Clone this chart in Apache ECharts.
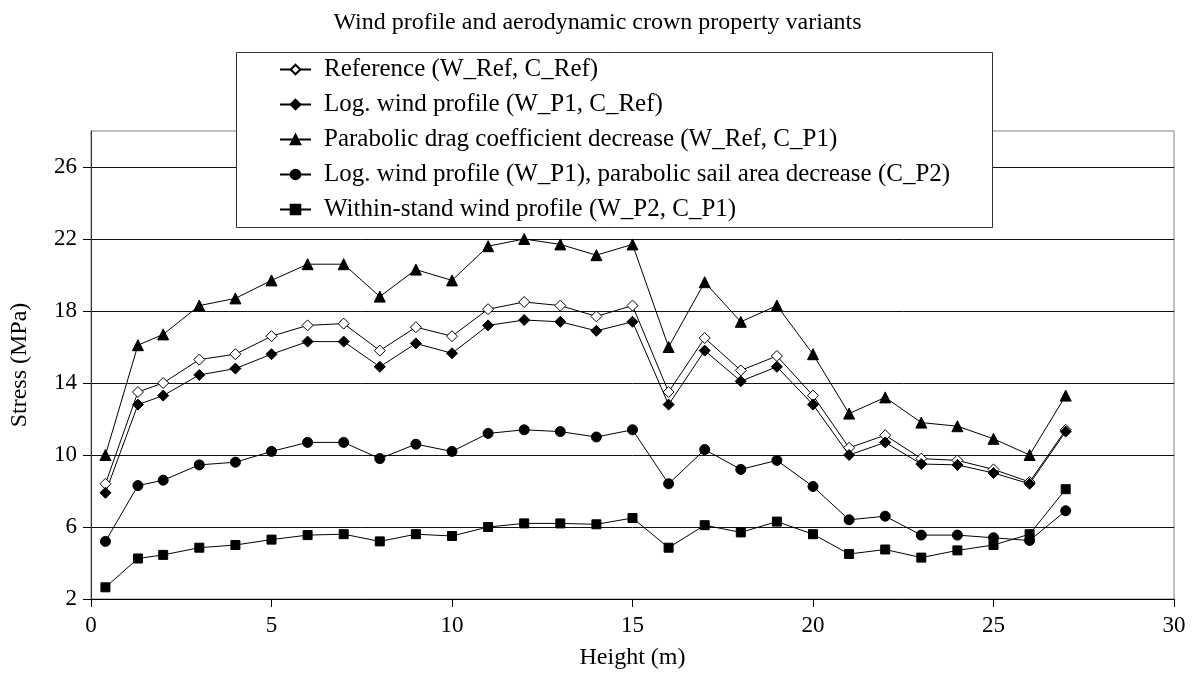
<!DOCTYPE html>
<html>
<head>
<meta charset="utf-8">
<script src="https://cdn.jsdelivr.net/npm/echarts@6/dist/echarts.min.js"></script>
<style>
html,body{margin:0;padding:0;background:#fff;}
#chart{width:1195px;height:675px;}
</style>
</head>
<body>
<div id="chart"></div>
<script>
const heights = [0.4, 1.3, 2, 3, 4, 5, 6, 7, 8, 9, 10, 11, 12, 13, 14, 15, 16, 17, 18, 19, 20, 21, 22, 23, 24, 25, 26, 27];
const refValues = [8.4, 13.5, 14.0, 15.3, 15.6, 16.6, 17.2, 17.3, 15.8, 17.1, 16.6, 18.1, 18.5, 18.3, 17.7, 18.3, 13.5, 16.5, 14.7, 15.5, 13.3, 10.4, 11.1, 9.8, 9.7, 9.2, 8.5, 11.4];
const logWindValues = [7.9, 12.8, 13.3, 14.45, 14.8, 15.6, 16.3, 16.3, 14.9, 16.2, 15.65, 17.2, 17.5, 17.4, 16.9, 17.4, 12.8, 15.8, 14.1, 14.9, 12.8, 10.0, 10.7, 9.5, 9.45, 9.0, 8.4, 11.3];
const parabolicDragValues = [10.0, 16.1, 16.7, 18.3, 18.7, 19.7, 20.6, 20.6, 18.8, 20.3, 19.7, 21.6, 22.0, 21.7, 21.1, 21.7, 16.0, 19.6, 17.4, 18.3, 15.6, 12.3, 13.2, 11.8, 11.6, 10.9, 10.0, 13.3];
const logSailValues = [5.2, 8.3, 8.6, 9.45, 9.6, 10.2, 10.7, 10.7, 9.8, 10.6, 10.2, 11.2, 11.4, 11.3, 11.0, 11.4, 8.4, 10.3, 9.2, 9.7, 8.25, 6.4, 6.6, 5.55, 5.55, 5.4, 5.25, 6.9];
const withinStandValues = [2.65, 4.25, 4.45, 4.85, 5.0, 5.3, 5.55, 5.6, 5.2, 5.6, 5.5, 6.0, 6.2, 6.2, 6.15, 6.5, 4.85, 6.1, 5.7, 6.3, 5.6, 4.5, 4.75, 4.3, 4.7, 5.0, 5.6, 8.1];
const seriesNames = [
  'Reference (W_Ref, C_Ref)',
  'Log. wind profile (W_P1, C_Ref)',
  'Parabolic drag coefficient decrease (W_Ref, C_P1)',
  'Log. wind profile (W_P1), parabolic sail area decrease (C_P2)',
  'Within-stand wind profile (W_P2, C_P1)'
];
const yTickValues = [2, 6, 10, 14, 18, 22, 26];
const titleText = 'Wind profile and aerodynamic crown property variants';
const xAxisName = 'Height (m)';
const yAxisName = 'Stress (MPa)';

const FONT = '"Liberation Serif", "Times New Roman", serif';
function pairs(vals){ return heights.map((h,i)=>[h, vals[i]]); }
function mk(name, vals, symbol, size, fill){
  return {
    name: name, type: 'line', data: pairs(vals),
    symbol: symbol, symbolSize: size,
    lineStyle: {color: '#000', width: 1},
    itemStyle: {color: fill, borderColor: '#000', borderWidth: 1},
    emphasis: {disabled: true},
    animation: false, z: 3
  };
}
const chart = echarts.init(document.getElementById('chart'));
chart.setOption({
  backgroundColor: '#fff',
  animation: false,
  title: {
    text: titleText, left: 'center', top: 6,
    textStyle: {fontFamily: FONT, fontSize: 24, fontWeight: 'normal', color: '#000'}
  },
  graphic: [{
    type: 'rect', left: 236, top: 52, z: 5,
    shape: {width: 756, height: 175},
    style: {fill: '#fff', stroke: '#333', lineWidth: 1}
  }],
  legend: {
    orient: 'vertical', left: 236, top: 52, z: 10,
    padding: [5, 0, 0, 43],
    itemWidth: 31, itemHeight: 12, itemGap: 10,
    data: seriesNames,
    textStyle: {fontFamily: FONT, fontSize: 25, color: '#000', lineHeight: 25, padding: [0, 0, 0, 8]}
  },
  grid: {left: 90, right: 21, top: 131, bottom: 73, show: true, borderColor: '#808080', borderWidth: 1, containLabel: false},
  xAxis: {
    type: 'value', min: 0, max: 30, interval: 5,
    name: xAxisName, nameLocation: 'middle', nameGap: 47,
    nameTextStyle: {fontFamily: FONT, fontSize: 24, color: '#000'},
    axisLine: {show: true, lineStyle: {color: '#000', width: 1}},
    axisTick: {show: true, inside: false, length: 8, lineStyle: {color: '#000'}},
    axisLabel: {fontFamily: FONT, fontSize: 23, color: '#000', margin: 15},
    splitLine: {show: false}
  },
  yAxis: {
    type: 'value', min: 2, max: 28, interval: 4,
    name: yAxisName, nameLocation: 'middle', nameGap: 59,
    nameTextStyle: {fontFamily: FONT, fontSize: 24, color: '#000'},
    axisLine: {show: true, lineStyle: {color: '#333', width: 1}},
    axisTick: {show: true, inside: false, length: 8, lineStyle: {color: '#000'}, customValues: yTickValues},
    axisLabel: {fontFamily: FONT, fontSize: 23, color: '#000', margin: 14, customValues: yTickValues},
    splitLine: {show: true, lineStyle: {color: '#111', width: 1}}
  },
  series: [
    mk(seriesNames[0], refValues, 'diamond', 11, '#fff'),
    mk(seriesNames[1], logWindValues, 'diamond', 11, '#000'),
    mk(seriesNames[2], parabolicDragValues, 'triangle', 11, '#000'),
    mk(seriesNames[3], logSailValues, 'circle', 10, '#000'),
    mk(seriesNames[4], withinStandValues, 'rect', 9, '#000')
  ]
});
</script>
</body>
</html>
